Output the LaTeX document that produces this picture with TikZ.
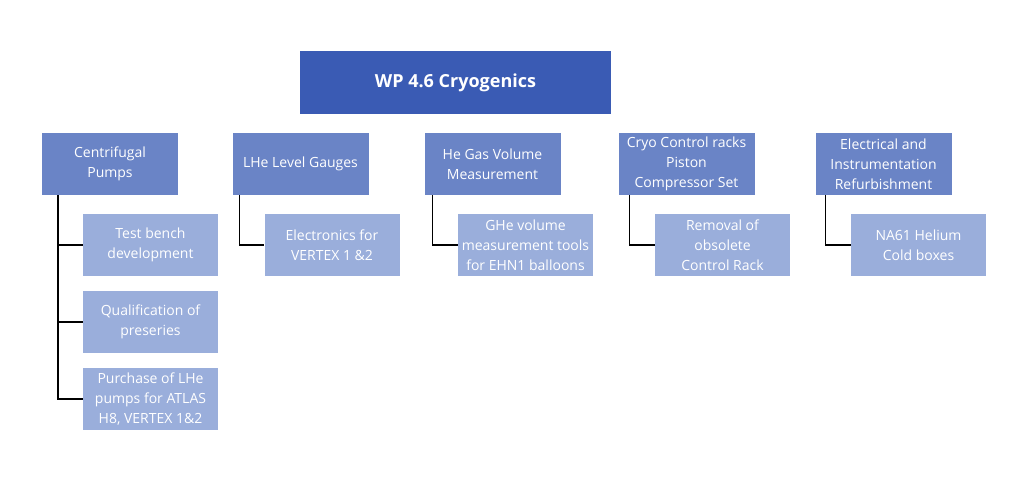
\documentclass[tikz,border=0pt]{standalone}
\usepackage{fontspec}
\setmainfont{Open Sans}
\usepackage{tikz}
\usetikzlibrary{positioning}
\definecolor{wpdark}{HTML}{3A5BB4}
\definecolor{wpmid}{HTML}{6A84C6}
\definecolor{wplight}{HTML}{9AAEDB}

\begin{document}
\begin{tikzpicture}[x=1pt, y=-1pt,
        wpbox/.style={fill=wpdark, text=white, minimum width=311pt, minimum height=63pt,
            inner sep=0pt, font=\fontsize{18}{22}\selectfont\bfseries},
        taskbox/.style={fill=wpmid, text=white, minimum width=136pt, minimum height=62pt,
            inner sep=0pt, align=center, font=\fontsize{14}{20}\selectfont},
        subbox/.style={fill=wplight, text=white, minimum width=135pt, minimum height=62pt,
            inner sep=0pt, align=center, font=\fontsize{14}{20}\selectfont},
        link/.style={draw=black, line width=1.5pt}]
    \useasboundingbox (0,0) rectangle (1024,477);

    \node[wpbox] (wp) at (455.5,82.5) {WP 4.6 Cryogenics};

    % tasks
    \node[taskbox] (pumps) at (110,164) {Centrifugal\\Pumps};
    \node[taskbox] (gauges) at (300.5,164) {LHe Level Gauges};
    \node[taskbox] (gasvol) at (492.5,164) {He Gas Volume\\Measurement};
    \node[taskbox] (racks) at (686.5,164) {Cryo Control racks\\Piston\\Compressor Set};
    \node[taskbox] (refurb) at (883.5,164) {Electrical and\\Instrumentation\\Refurbishment};

    % sub tasks
    \node[subbox] (bench) at (150.5,245) {Test bench\\development};
    \node[subbox] (preser) at (150.5,322) {Qualification of\\preseries};
    \node[subbox] (purch) at (150.5,399) {Purchase of LHe\\pumps for ATLAS\\H8, VERTEX 1\&2};
    \node[subbox] (elec) at (332,245) {Electronics for\\VERTEX 1 \&2};
    \node[subbox] (tools) at (525.5,245) {GHe volume\\measurement tools\\for EHN1 balloons};
    \node[subbox] (removal) at (722.5,245) {Removal of\\obsolete\\Control Rack};
    \node[subbox] (coldbox) at (918.5,245) {NA61 Helium\\Cold boxes};

    \draw[link] (pumps.south west) ++(16,0) |- (purch.west);
    \draw[link] (pumps.south west) ++(16,0) |- (bench.west);
    \draw[link] (pumps.south west) ++(16,0) |- (preser.west);
    \draw[link] (gauges.south west) ++(7,0) |- (elec.west);
    \draw[link] (gasvol.south west) ++(8,0) |- (tools.west);
    \draw[link] (racks.south west) ++(11,0) |- (removal.west);
    \draw[link] (refurb.south west) ++(10,0) |- (coldbox.west);
\end{tikzpicture}
\end{document}
